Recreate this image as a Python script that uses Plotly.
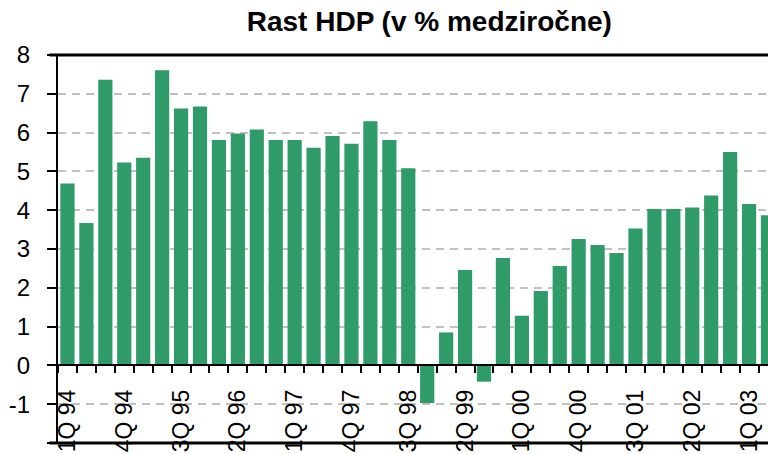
import plotly.graph_objects as go

title_text = "Rast HDP (v % medziročne)"

quarters = [
    "1Q 94", "2Q 94", "3Q 94", "4Q 94",
    "1Q 95", "2Q 95", "3Q 95", "4Q 95",
    "1Q 96", "2Q 96", "3Q 96", "4Q 96",
    "1Q 97", "2Q 97", "3Q 97", "4Q 97",
    "1Q 98", "2Q 98", "3Q 98", "4Q 98",
    "1Q 99", "2Q 99", "3Q 99", "4Q 99",
    "1Q 00", "2Q 00", "3Q 00", "4Q 00",
    "1Q 01", "2Q 01", "3Q 01", "4Q 01",
    "1Q 02", "2Q 02", "3Q 02", "4Q 02",
    "1Q 03", "2Q 03",
]

gdp_growth = [
    4.69, 3.67, 7.36, 5.23, 5.35, 7.61, 6.62, 6.67, 5.81, 5.98,
    6.08, 5.81, 5.81, 5.61, 5.91, 5.71, 6.29, 5.81, 5.08, -0.97,
    0.85, 2.46, -0.42, 2.77, 1.28, 1.92, 2.56, 3.26, 3.10, 2.90,
    3.53, 4.03, 4.03, 4.07, 4.38, 5.50, 4.16, 3.87,
]

x_tick_labels = ["1Q 94", "4Q 94", "3Q 95", "2Q 96", "1Q 97", "4Q 97", "3Q 98",
                 "2Q 99", "1Q 00", "4Q 00", "3Q 01", "2Q 02", "1Q 03"]

y_tick_values = [-2, -1, 0, 1, 2, 3, 4, 5, 6, 7, 8]
y_tick_labels = ["-2", "-1", "0", "1", "2", "3", "4", "5", "6", "7", "8"]

BAR_COLOR = "#2f9b69"
FONT = "Liberation Sans, Arial, sans-serif"

ticktext = [q if q in x_tick_labels else "" for q in quarters]

fig = go.Figure()
fig.add_trace(go.Bar(
    x=quarters, y=gdp_growth,
    marker=dict(color=BAR_COLOR, line=dict(width=0)),
    hoverinfo="skip", showlegend=False,
))

fig.update_layout(
    width=768, height=454,
    margin=dict(l=58, r=0, t=55, b=11, autoexpand=False),
    paper_bgcolor="white", plot_bgcolor="white",
    bargap=0.25,
    font=dict(family=FONT, color="black"),
    title=dict(
        text=title_text,
        font=dict(family=FONT, size=28, color="black", weight="bold"),
        x=0.523, xanchor="center", xref="paper",
        y=1 - 21 / 454, yanchor="middle", yref="container",
    ),
    xaxis=dict(
        type="category",
        range=[-0.5, 37.0],
        anchor="free", position=0.2,
        showline=True, linecolor="black", linewidth=2,
        ticks="outside", ticklen=7, tickwidth=2, tickcolor="black",
        tickson="boundaries",
        tickmode="array", tickvals=quarters, ticktext=ticktext,
        tickangle=-90,
        tickfont=dict(family=FONT, size=23, color="black"),
        ticklabelstandoff=14,
        showgrid=False, zeroline=False, automargin=False,
    ),
    yaxis=dict(
        range=[-2, 8],
        tickmode="array", tickvals=y_tick_values, ticktext=y_tick_labels,
        showline=True, linecolor="black", linewidth=2,
        ticks="outside", ticklen=9, tickwidth=2, tickcolor="black",
        tickfont=dict(family=FONT, size=24, color="black"),
        ticklabelstandoff=12,
        showgrid=True, gridcolor="#c0c0c0", gridwidth=2, griddash="8px,6px",
        zeroline=False, automargin=False,
    ),
    shapes=[
        dict(type="line", xref="paper", yref="paper", x0=-0.012, x1=1, y0=1, y1=1,
             line=dict(color="black", width=3), layer="above"),
        dict(type="line", xref="paper", yref="paper", x0=-0.012, x1=1, y0=0, y1=0,
             line=dict(color="black", width=3), layer="above"),
    ],
)

fig.write_html(
    "out.html",
    config={"displayModeBar": False, "staticPlot": True},
    post_script="document.body.style.margin='0';document.body.style.padding='0';",
)
